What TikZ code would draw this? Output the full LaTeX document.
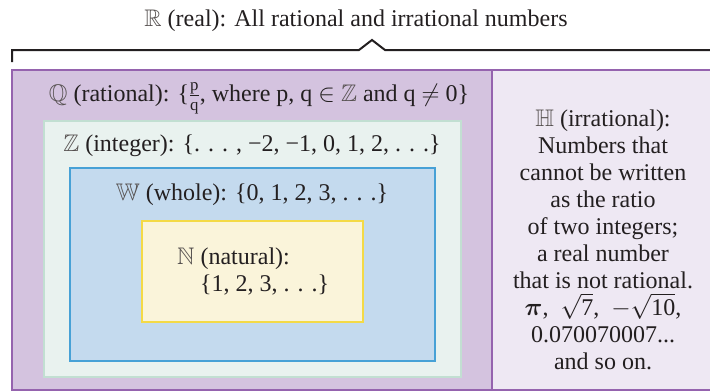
\documentclass[tikz,border=0pt]{standalone}
\usepackage{amsmath,amssymb}
\usepackage{fontspec}
\setmainfont{Liberation Serif}
\newfontfamily\timesish{Liberation Serif}
\definecolor{qfill}{HTML}{D4C3DF}
\definecolor{hfill}{HTML}{EEE8F3}
\definecolor{qline}{HTML}{9563AE}
\definecolor{zfill}{HTML}{E9F2EF}
\definecolor{zline}{HTML}{C2DFD2}
\definecolor{wfill}{HTML}{C4DAEE}
\definecolor{wline}{HTML}{47A1D6}
\definecolor{nfill}{HTML}{FAF4DA}
\definecolor{nline}{HTML}{F4DA46}
\definecolor{ink}{HTML}{231F20}
\definecolor{bbgray}{HTML}{55504F}
\tikzset{
  lbl/.style={font=\timesish\fontsize{24}{27}\selectfont, text=ink, inner sep=0pt},
  bracketline/.style={draw=ink, line width=2pt, line join=miter}
}
\newcommand{\bbl}[1]{\textcolor{bbgray}{$\mathbb{#1}$}}
\begin{document}
\begin{tikzpicture}[x=1pt,y=-1pt]
\useasboundingbox (0,0) rectangle (710,391);
\clip (0,0) rectangle (710,391);
% regions
\fill[hfill] (492,70) rectangle (720,400);
\fill[qfill] (12,70) rectangle (492,390);
\draw[qline, line width=2pt] (720,70) -- (12,70) -- (12,390) -- (492,390);
\draw[qline, line width=2pt] (492,70) -- (492,400);
\draw[qline, line width=2pt] (492,390) -- (720,390);
\draw[zline, fill=zfill, line width=2pt] (44,121) rectangle (461,377);
\draw[wline, fill=wfill, line width=2pt] (70,168) rectangle (435,361);
\draw[nline, fill=nfill, line width=2.5pt] (142,221) rectangle (363,322);
% bracket
\coordinate (bl) at (12,62);
\coordinate (br) at (720,50);
\coordinate (peak) at (372,40);
\draw[bracketline] (bl) -- (12,50) -- (359,50) -- (peak) -- (385,50) -- (br);
% labels
\node[lbl] (rlab) at (356,21) {\bbl{R} (real): All rational and irrational numbers};
\node[lbl] (qlab) at (259,98) {\bbl{Q} (rational): \{$\frac{\text{p}}{\text{q}}$, where p, q $\in$ \bbl{Z} and q $\neq$ 0\}};
\node[lbl] (zlab) at (252,146) {\bbl{Z} (integer): \{. . . , −2, −1, 0, 1, 2, . . .\}};
\node[lbl] (wlab) at (252,195) {\bbl{W} (whole): \{0, 1, 2, 3, . . .\}};
\node[lbl, align=left, anchor=west] (nlab) at (177,272) {\bbl{N} (natural):\\\hspace{23pt}\{1, 2, 3, . . .\}};
\node[lbl, align=center] (hlab) at (603,240) {\bbl{H} (irrational):\\Numbers that\\cannot be written\\as the ratio\\of two integers;\\a real number\\that is not rational.\\$\boldsymbol{\pi}$,\ \ $\sqrt{\text{7}}$,\ \ $-\sqrt{\text{10}}$,\\0.070070007...\\and so on.};
\end{tikzpicture}
\end{document}
